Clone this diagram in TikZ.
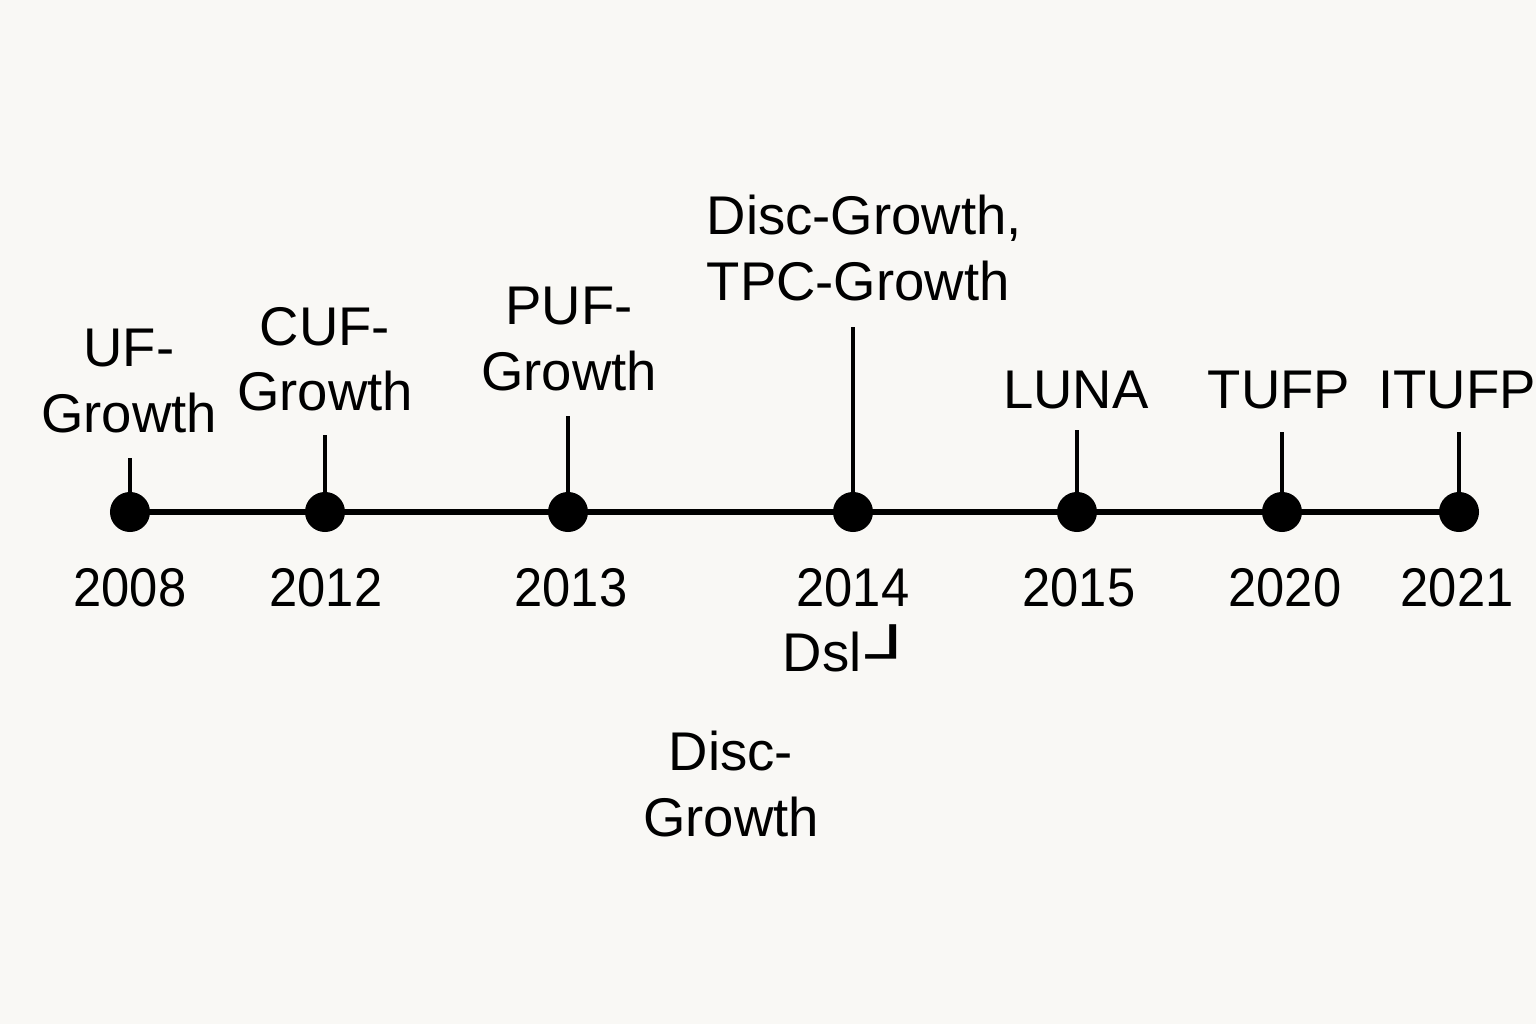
\documentclass[tikz,border=0pt]{standalone}
\usepackage{fontspec}
\setmainfont{Liberation Sans}
\newfontfamily\dvfont{DejaVu Sans}
\newfontfamily\yearfont[FakeStretch=0.93]{Liberation Sans}
\definecolor{bgc}{HTML}{F9F8F5}
\begin{document}
\begin{tikzpicture}[x=0.01cm,y=-0.01cm,
  lbl/.style={inner sep=0pt,font=\fontsize{15.5}{18.5}\selectfont,align=center},
  yr/.style={inner sep=0pt,font=\yearfont\fontsize{15.5}{18.5}\selectfont},
  dot/.style={circle,fill=black,inner sep=0pt,minimum size=0.4cm},
  axis/.style={line width=1.7pt},
  tick/.style={line width=1.2pt}]
\fill[bgc] (0,0) rectangle (1536,1024);
\useasboundingbox (0,0) rectangle (1536,1024);
\coordinate (p1) at (130,512);
\coordinate (p7) at (1459,512);
\draw[axis] (p1) -- (p7);
\foreach \n/\x/\t in {1/130/458,2/325/435,3/568/416,4/853/327,5/1077/430,6/1282/432,7/1459/432}{
  \coordinate (t\n) at (\x,\t);
  \node[dot] (d\n) at (\x,512) {};
  \draw[tick] (t\n) -- (d\n.center);
}
% upper labels
\node[lbl] (l1) at (129,381) {UF-\\Growth};
\node[lbl] (l2) at (325,359) {CUF-\\Growth};
\node[lbl] (l3) at (569,339) {PUF-\\Growth};
\node[lbl,align=left,anchor=west] (l4) at (706,248) {Disc-Growth,\\TPC-Growth};
\node[lbl] (l5) at (1076,390) {LUNA};
\node[lbl] (l6) at (1279,390) {TUFP};
\node[lbl] (l7) at (1457,390) {ITUFP};
% years
\node[yr] (y1) at (130,588) {2008};
\node[yr] (y2) at (326,588) {2012};
\node[yr] (y3) at (571,588) {2013};
\node[yr] (y4) at (853,588) {2014};
\node[yr] (y5) at (1079,588) {2015};
\node[yr] (y6) at (1285,588) {2020};
\node[yr] (y7) at (1457,588) {2021};
% lower labels
\node[lbl,anchor=base west] (ds) at (782,671) {Dsl\hspace{1.5pt}\raisebox{-1.4pt}{\scalebox{1.8}[1.1]{\dvfont\fontsize{14}{16}\selectfont ┘}}};
\node[lbl] (dg) at (731,784) {Disc-\\Growth};
\end{tikzpicture}
\end{document}
